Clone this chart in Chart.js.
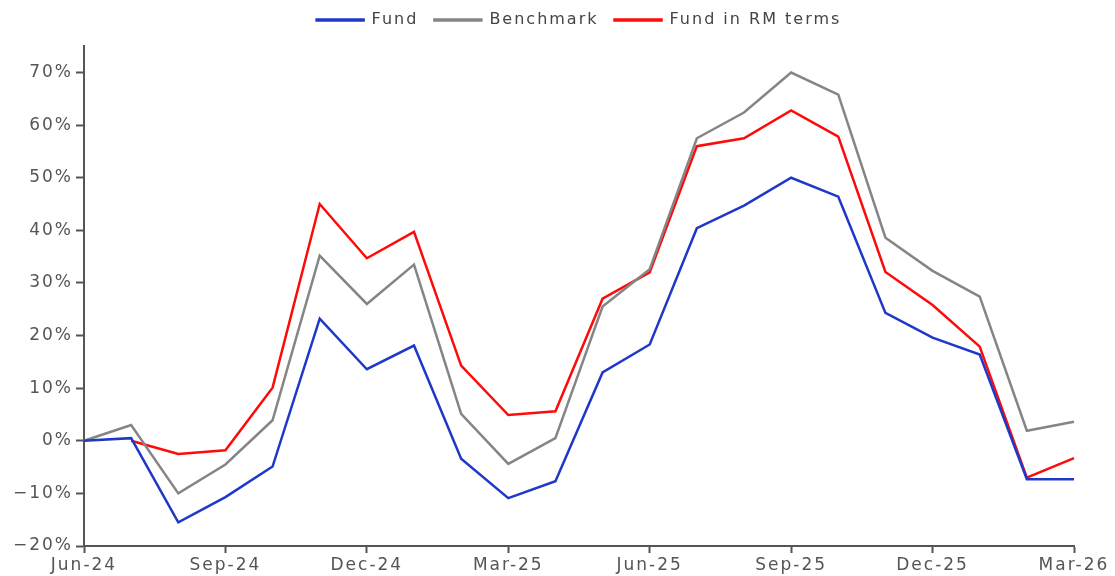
<!DOCTYPE html>
<html>
<head>
<meta charset="utf-8">
<script src="https://cdn.jsdelivr.net/npm/chart.js@4/dist/chart.umd.min.js"></script>
<style>
html,body{margin:0;padding:0;background:#fff;}
#wrap{width:1115px;height:576px;}
</style>
</head>
<body>
<div id="wrap"><canvas id="c" width="1115" height="576"></canvas></div>
<script>
const months = ['Jun-24','Jul-24','Aug-24','Sep-24','Oct-24','Nov-24','Dec-24','Jan-25','Feb-25','Mar-25','Apr-25','May-25','Jun-25','Jul-25','Aug-25','Sep-25','Oct-25','Nov-25','Dec-25','Jan-26','Feb-26','Mar-26'];
const fund = [0, 0.5, -15.5, -10.7, -4.9, 23.2, 13.6, 18.1, -3.4, -10.9, -7.7, 13.0, 18.3, 40.4, 44.7, 50.0, 46.4, 24.3, 19.6, 16.4, -7.3, -7.3];
const benchmark = [0, 3.0, -10.0, -4.5, 3.9, 35.2, 26.0, 33.5, 5.1, -4.4, 0.5, 25.5, 32.6, 57.5, 62.4, 70.0, 65.8, 38.6, 32.3, 27.4, 1.9, 3.6];
const fundRM = [null, 0, -2.5, -1.8, 10.1, 45.0, 34.7, 39.7, 14.3, 4.9, 5.6, 27.0, 32.0, 56.0, 57.5, 62.8, 57.8, 32.1, 25.8, 17.9, -7.0, -3.3];
const seriesNames = ['Fund', 'Benchmark', 'Fund in RM terms'];
const seriesColors = ['#2038c8', '#858585', '#ff0a0a'];

const FONT = "'DejaVu Sans', Verdana, sans-serif";
const spacingPlugin = {
  id: 'spacing',
  beforeLayout(chart){ chart.ctx.letterSpacing = '2px'; },
  afterLayout(chart){
    if (chart.legend) { chart.legend.left += 42; chart.legend.right += 42; }
  },
  beforeDraw(chart){ chart.ctx.letterSpacing = '2px'; }
};

new Chart(document.getElementById('c'), {
  type: 'line',
  data: {
    labels: months,
    datasets: [fund, benchmark, fundRM].map((d, i) => ({
      label: seriesNames[i],
      data: d,
      borderColor: seriesColors[i],
      backgroundColor: seriesColors[i],
      borderWidth: 2.5,
      pointRadius: 0,
      tension: 0,
      fill: false
    }))
  },
  options: {
    responsive: false,
    animation: false,
    layout: { padding: { top: -4, right: 41, left: 0, bottom: 0 } },
    plugins: {
      legend: {
        position: 'top',
        labels: {
          font: { family: FONT, size: 16 },
          color: '#444',
          boxWidth: 47,
          boxHeight: 1,
          padding: 16
        }
      },
      title: {
        display: true,
        text: '',
        weight: 500,
        font: { size: 1 },
        padding: { top: 0, bottom: 7 }
      },
      tooltip: { enabled: false }
    },
    scales: {
      x: {
        type: 'category',
        offset: false,
        afterFit: (axis) => { axis.height = 30; },
        grid: {
          display: true,
          drawOnChartArea: false,
          drawTicks: true,
          tickLength: 7,
          tickWidth: 2,
          tickColor: (ctx) => (ctx.index % 3 === 0 ? '#555' : 'rgba(0,0,0,0)')
        },
        border: { display: true, color: '#555', width: 2 },
        ticks: {
          autoSkip: false,
          maxRotation: 0,
          padding: 2,
          color: '#555',
          font: { family: FONT, size: 17 },
          callback: (v, i) => (i % 3 === 0 ? months[i] : '')
        }
      },
      y: {
        min: -20,
        max: 75,
        afterBuildTicks: (axis) => { axis.ticks = axis.ticks.filter(t => t.value % 10 === 0); },
        afterFit: (axis) => { axis.width = 84; },
        grid: {
          display: true,
          drawOnChartArea: false,
          drawTicks: true,
          tickLength: 8,
          tickWidth: 2,
          tickColor: '#555'
        },
        border: { display: true, color: '#555', width: 2 },
        ticks: {
          stepSize: 10,
          padding: 3,
          color: '#555',
          font: { family: FONT, size: 17 },
          callback: (v) => (v < 0 ? '\u2212' + Math.abs(v) : v) + '%'
        }
      }
    }
  },
  plugins: [spacingPlugin]
});
</script>
</body>
</html>
